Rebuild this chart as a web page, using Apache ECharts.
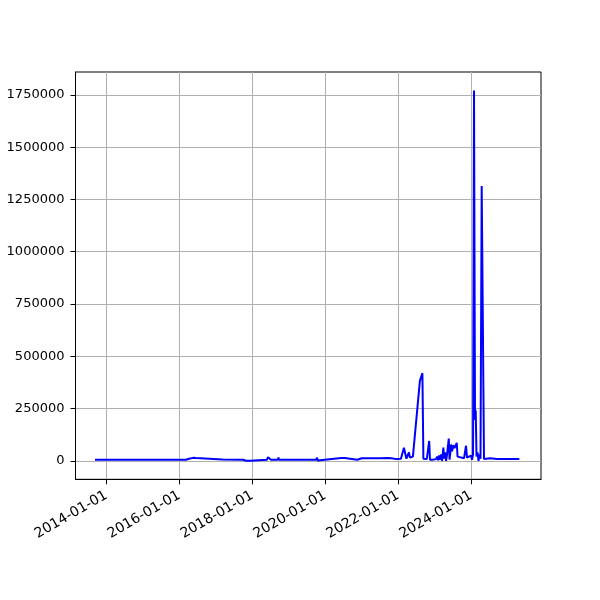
<!DOCTYPE html>
<html>
<head>
<meta charset="utf-8">
<script src="https://cdn.jsdelivr.net/npm/echarts@6/dist/echarts.min.js"></script>
<style>html,body{margin:0;padding:0;background:#fff}#c{width:600px;height:600px}</style>
</head>
<body>
<div id="c"></div>
<script>
const dates = [
  "2013-09-08","2014-10-14","2014-10-20","2014-10-28",
  "2016-03-08","2016-03-18","2016-04-07","2016-04-17","2016-05-17","2016-06-16","2016-07-06",
  "2017-03-10","2017-03-18","2017-03-26",
  "2017-09-30","2017-10-30","2017-12-09","2017-12-29",
  "2018-05-28","2018-06-07","2018-06-27","2018-07-07","2018-09-14","2018-09-20","2018-09-26",
  "2019-03-25","2019-03-31","2019-04-06",
  "2019-10-05","2019-10-12","2019-10-20","2019-11-10",
  "2020-06-10","2020-06-27","2020-07-15","2020-11-18","2020-11-24","2020-11-30",
  "2021-01-01","2021-01-10","2021-04-11","2021-04-20","2021-07-03","2021-07-12","2021-09-15","2021-09-25","2021-10-29","2021-12-11",
  "2022-01-29","2022-02-28","2022-03-15","2022-03-25","2022-04-19","2022-04-29","2022-05-29",
  "2022-08-07","2022-08-22","2022-09-01","2022-09-11","2022-09-20","2022-10-15","2022-11-08","2022-11-16","2022-12-10",
  "2023-01-16","2023-01-26","2023-02-05","2023-02-15","2023-02-25","2023-03-07","2023-03-17","2023-03-30","2023-04-06",
  "2023-04-16","2023-04-26","2023-05-06","2023-05-23","2023-05-31","2023-06-10","2023-06-15","2023-06-25","2023-07-08",
  "2023-07-20","2023-08-11","2023-08-19","2023-09-03","2023-10-23","2023-11-12","2023-11-22","2023-12-12",
  "2024-01-01","2024-01-11","2024-01-21","2024-01-31","2024-02-10","2024-02-17","2024-02-25","2024-03-06","2024-03-16",
  "2024-03-26","2024-04-05","2024-04-17","2024-04-24","2024-05-10","2024-07-10","2024-09-18","2025-04-29"
];
const values = [
  5000,5000,1000,5000,
  5000,1000,10000,3000,14000,13000,7000,
  6000,0,6000,
  5000,0,0,4000,
  5000,17000,16000,5000,5000,16000,5000,
  5000,14000,5000,
  5000,15000,0,3000,
  13000,14000,13000,5000,10000,2000,
  12000,8000,12000,8000,12000,8000,13000,8000,12000,8000,
  10000,62000,60000,10000,40000,15000,20000,
  383000,385000,419000,10000,2000,8000,95000,5000,5000,
  8000,20000,2000,25000,5000,30000,0,63000,10000,
  40000,0,30000,106000,5000,50000,78000,45000,75000,
  60000,86000,20000,15000,12000,72000,15000,12000,
  25000,5000,30000,1771000,196000,242000,20000,40000,0,
  30000,10000,1314000,1310000,8000,12000,8000,8000
];
const xTickLabels = ["2014-01-01","2016-01-01","2018-01-01","2020-01-01","2022-01-01","2024-01-01"];
const yTickValues = [0,250000,500000,750000,1000000,1250000,1500000,1750000];
const xRange = ["2013-02-25","2025-12-02"];
const yRange = [-88550, 1859550];

function ts(s){const p=s.split('-').map(Number);return Date.UTC(p[0],p[1]-1,p[2]);}
function fmt(v){const d=new Date(v);const p=n=>String(n).padStart(2,'0');return d.getUTCFullYear()+'-'+p(d.getUTCMonth()+1)+'-'+p(d.getUTCDate());}
const seriesData = dates.map((d,i)=>[ts(d), values[i]]);
const xTicks = xTickLabels.map(ts);

const chart = echarts.init(document.getElementById('c'), null, {renderer:'canvas'});
const font = 'DejaVu Sans';
chart.setOption({
  animation:false,
  backgroundColor:'#fff',
  grid:{left:75.5,right:59,top:72,bottom:120.7,show:true,borderColor:'#000',borderWidth:1,containLabel:false},
  xAxis:{
    type:'value', min:ts(xRange[0]), max:ts(xRange[1]), scale:true,
    axisLine:{show:true,onZero:false,lineStyle:{color:'#000',width:1}},
    axisTick:{show:true,length:5,lineStyle:{color:'#000',width:1},customValues:xTicks},
    axisLabel:{show:true,rotate:30,margin:15,color:'#000',fontFamily:font,fontSize:14,customValues:xTicks,formatter:v=>fmt(v),hideOverlap:false},
    splitLine:{show:true,lineStyle:{color:'#b0b0b0',width:1}}
  },
  yAxis:{
    type:'value', min:yRange[0], max:yRange[1],
    axisLine:{show:true,onZero:false,lineStyle:{color:'#000',width:1}},
    axisTick:{show:true,length:5,lineStyle:{color:'#000',width:1},customValues:yTickValues},
    axisLabel:{show:true,margin:11,color:'#000',fontFamily:font,fontSize:13,customValues:yTickValues,formatter:v=>String(v)},
    splitLine:{show:true,lineStyle:{color:'#b0b0b0',width:1}}
  },
  series:[{
    type:'line', data:seriesData, showSymbol:false, symbol:'none',
    lineStyle:{color:'#0000ff',width:2}, itemStyle:{color:'#0000ff'}
  }]
});
</script>
</body>
</html>
